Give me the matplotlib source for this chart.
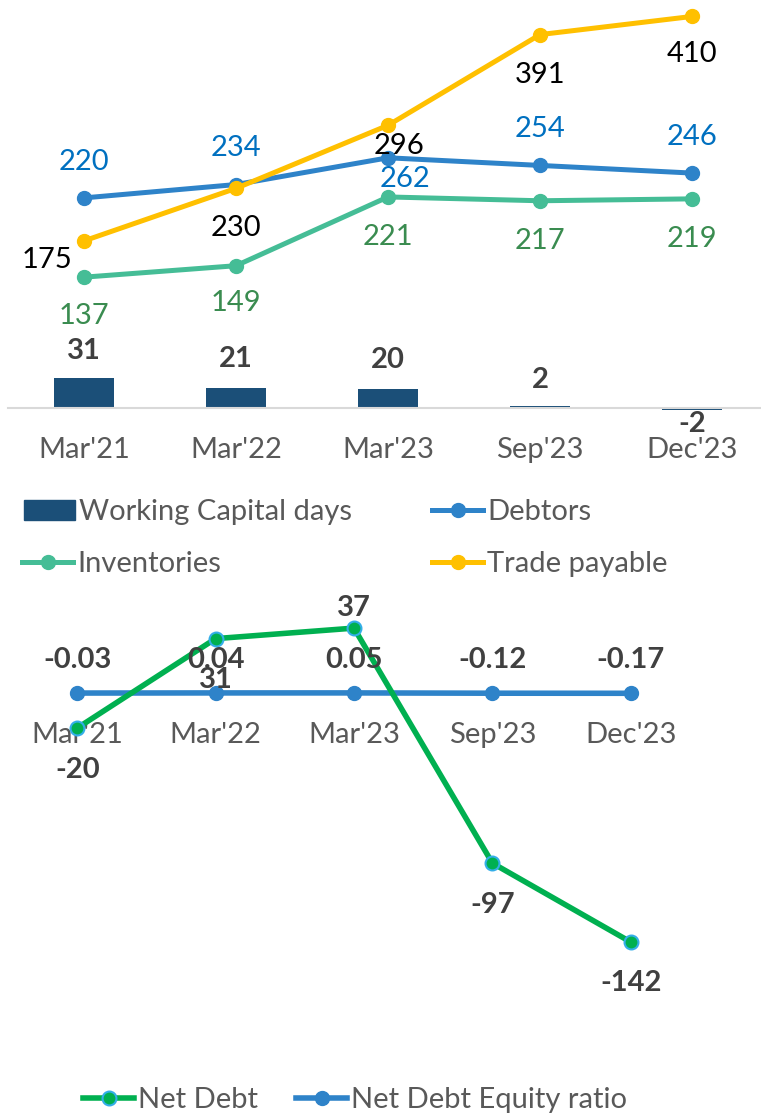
import numpy as np
import matplotlib
matplotlib.use("Agg")
import matplotlib.pyplot as plt
from matplotlib.patches import Patch
from matplotlib.lines import Line2D

plt.rcParams['font.family'] = ['Lato', 'DejaVu Sans']

# ---------------- data ----------------
periods = ["Mar'21", "Mar'22", "Mar'23", "Sep'23", "Dec'23"]
wc_days = [31, 21, 20, 2, -2]
debtors = [220, 234, 262, 254, 246]
inventories = [137, 149, 221, 217, 219]
trade_payable = [175, 230, 296, 391, 410]

net_debt = [-20, 31, 37, -97, -142]
nd_equity = [-0.03, 0.04, 0.05, -0.12, -0.17]

# ---------------- style ----------------
W, H = 761, 1116
DPI = 100
C_BAR = "#1B4F78"
C_DEB = "#2E83C9"
C_INV = "#45BD96"
C_TRD = "#FFC000"
C_ND = "#00B050"
C_NDE = "#2E83C9"
GRAY = "#595959"
DARK = "#404040"
FS = 21
LW1 = 3.6
LW2 = 4


def px_axes(fig, left, top, width, height):
    return fig.add_axes([left / W, 1 - (top + height) / H, width / W, height / H])


fig = plt.figure(figsize=(W / DPI, H / DPI), dpi=DPI)

# ================= top chart =================
k1 = 0.955          # pixels per unit
zero1 = 408
ylo1, yhi1 = -20, 430
ax1 = px_axes(fig, 8, zero1 - yhi1 * k1, 760, (yhi1 - ylo1) * k1)
x = np.arange(len(periods))
ax1.bar(x, wc_days, width=0.4, color=C_BAR, zorder=2)
ax1.plot(x, debtors, color=C_DEB, lw=LW1, marker="o", ms=10, zorder=3)
ax1.plot(x, inventories, color=C_INV, lw=LW1, marker="o", ms=10, zorder=3)
ax1.plot(x, trade_payable, color=C_TRD, lw=LW1, marker="o", ms=10, zorder=4)
ax1.set_xlim(-0.5, 4.5)
ax1.set_ylim(ylo1, yhi1)
for s in ["top", "left", "right"]:
    ax1.spines[s].set_visible(False)
ax1.spines["bottom"].set_position(("data", 0))
ax1.spines["bottom"].set_color("#D9D9D9")
ax1.spines["bottom"].set_linewidth(1.5)
ax1.set_yticks([])
ax1.set_xticks(x)
ax1.set_xticklabels(periods, fontsize=FS, color=GRAY)
ax1.tick_params(axis="x", length=0, pad=21)
ax1.patch.set_alpha(0)

# bar labels
bar_off = [27, 29, 29, 26, -14]
for i, v in enumerate(wc_days):
    ax1.annotate(str(v), (i, v), xytext=(0, bar_off[i]), textcoords="offset pixels",
                 ha="center", va="center", fontsize=FS, fontweight="bold", color=DARK)

deb_off = [(0, 36), (0, 37), (17, -21), (0, 36), (0, 36)]
inv_off = [(0, -39), (0, -37), (0, -40), (0, -40), (0, -40)]
trd_off = [(-37, -19), (0, -40), (11, -21), (0, -40), (0, -38)]
for series, offs, col in [(debtors, deb_off, "#0070C0"),
                          (inventories, inv_off, "#3A8C50"),
                          (trade_payable, trd_off, "black")]:
    for i, v in enumerate(series):
        ax1.annotate(str(v), (i, v), xytext=offs[i], textcoords="offset pixels",
                     ha="center", va="center", fontsize=FS, color=col, zorder=5)

# legends, one entry each for exact placement
def add_leg(handle, label, xpx, ypx):
    lg = fig.legend([handle], [label], loc="center left",
                    bbox_to_anchor=(xpx / W, 1 - ypx / H), frameon=False,
                    fontsize=FS, handlelength=1.75, handletextpad=0.15,
                    borderpad=0, borderaxespad=0)
    for t in lg.get_texts():
        t.set_color(GRAY)

add_leg(Patch(color=C_BAR), "Working Capital days", 24, 512)
add_leg(Line2D([], [], color=C_DEB, lw=LW1, marker="o", ms=10), "Debtors", 432, 512)
add_leg(Line2D([], [], color=C_INV, lw=LW1, marker="o", ms=10), "Inventories", 22, 564)
add_leg(Line2D([], [], color=C_TRD, lw=LW1, marker="o", ms=10), "Trade payable", 432, 564)

# ================= bottom chart =================
k2 = 1.754
zero2 = 693
ylo2, yhi2 = -200, 60
ax2 = px_axes(fig, 8, zero2 - yhi2 * k2, 692, (yhi2 - ylo2) * k2)
ax2.plot(x, nd_equity, color=C_NDE, lw=LW2, marker="o", ms=10, zorder=2)
ax2.plot(x, net_debt, color=C_ND, lw=LW2, marker="o", ms=10, mfc=C_ND,
         mec="#33AEE8", mew=1.5, zorder=3)
ax2.set_xlim(-0.5, 4.5)
ax2.set_ylim(ylo2, yhi2)
for s in ["top", "left", "right"]:
    ax2.spines[s].set_visible(False)
ax2.spines["bottom"].set_position(("data", 0))
ax2.spines["bottom"].set_visible(False)
ax2.set_yticks([])
ax2.set_xticks(x)
ax2.set_xticklabels(periods, fontsize=FS, color=GRAY)
ax2.tick_params(axis="x", length=0, pad=21)
ax2.patch.set_alpha(0)

nd_off = [-42, -41, 20, -42, -41]
for i, v in enumerate(net_debt):
    ax2.annotate(str(v), (i, v), xytext=(0, nd_off[i]), textcoords="offset pixels",
                 ha="center", va="center", fontsize=FS, fontweight="bold", color=DARK,
                 zorder=5)
for i, v in enumerate(nd_equity):
    ax2.annotate(f"{v:.2f}", (i, v), xytext=(0, 33), textcoords="offset pixels",
                 ha="center", va="center", fontsize=FS, fontweight="bold", color=DARK,
                 zorder=5)

add_leg(Line2D([], [], color=C_ND, lw=LW2, marker="o", ms=10, mfc=C_ND,
               mec="#33AEE8", mew=1.5), "Net Debt", 83, 1100)
add_leg(Line2D([], [], color=C_NDE, lw=LW2, marker="o", ms=10), "Net Debt Equity ratio", 296, 1100)

fig.savefig("out.png", dpi=DPI)
